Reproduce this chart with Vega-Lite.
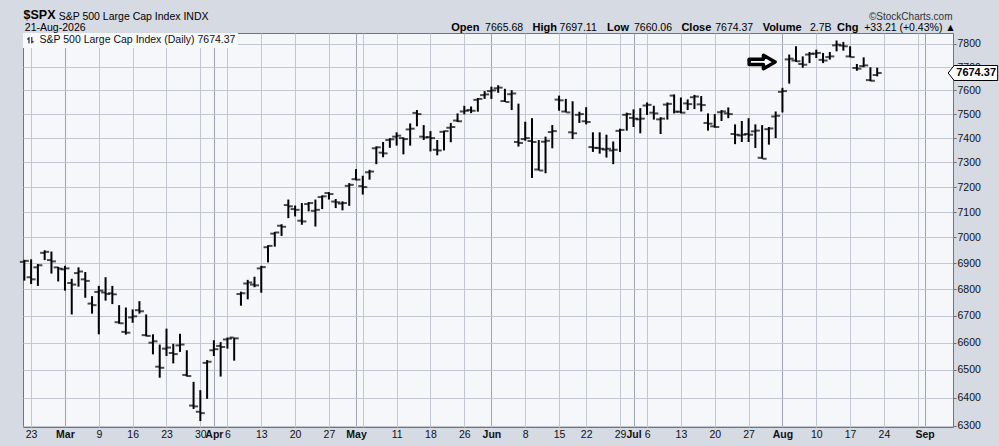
{
  "$schema": "https://vega.github.io/schema/vega-lite/v6.json",
  "width": 930,
  "height": 394,
  "autosize": "none",
  "padding": {"left": 23, "top": 33, "right": 46, "bottom": 19},
  "background": "#d5dae3",
  "config": {
    "view": {"fill": "#f5f7fb", "stroke": "#6f747e", "strokeWidth": 1},
    "font": "Liberation Sans",
    "axis": {"labelFont": "Liberation Sans", "titleFont": "Liberation Sans"},
    "legend": {"labelFont": "Liberation Sans"}
  },
  "datasets": {
    "ohlc": [
      {"d":"2026-02-20","o":6905,"h":6913,"l":6833,"c":6909},
      {"d":"2026-02-23","o":6846,"h":6915,"l":6820,"c":6838},
      {"d":"2026-02-24","o":6884,"h":6897,"l":6813,"c":6892},
      {"d":"2026-02-25","o":6940,"h":6950,"l":6912,"c":6944},
      {"d":"2026-02-26","o":6912,"h":6945,"l":6860,"c":6907},
      {"d":"2026-02-27","o":6884,"h":6886,"l":6830,"c":6879},
      {"d":"2026-03-02","o":6876,"h":6890,"l":6795,"c":6880},
      {"d":"2026-03-03","o":6824,"h":6840,"l":6705,"c":6818},
      {"d":"2026-03-04","o":6862,"h":6884,"l":6810,"c":6868},
      {"d":"2026-03-05","o":6838,"h":6866,"l":6768,"c":6832},
      {"d":"2026-03-06","o":6746,"h":6774,"l":6708,"c":6740},
      {"d":"2026-03-09","o":6790,"h":6813,"l":6631,"c":6795},
      {"d":"2026-03-10","o":6788,"h":6846,"l":6757,"c":6782},
      {"d":"2026-03-11","o":6785,"h":6813,"l":6744,"c":6781},
      {"d":"2026-03-12","o":6676,"h":6740,"l":6670,"c":6672},
      {"d":"2026-03-13","o":6640,"h":6731,"l":6630,"c":6637},
      {"d":"2026-03-16","o":6694,"h":6724,"l":6674,"c":6698},
      {"d":"2026-03-17","o":6721,"h":6755,"l":6708,"c":6717},
      {"d":"2026-03-18","o":6628,"h":6705,"l":6623,"c":6625},
      {"d":"2026-03-19","o":6600,"h":6631,"l":6557,"c":6605},
      {"d":"2026-03-20","o":6512,"h":6593,"l":6472,"c":6508},
      {"d":"2026-03-23","o":6578,"h":6652,"l":6551,"c":6582},
      {"d":"2026-03-24","o":6562,"h":6596,"l":6524,"c":6558},
      {"d":"2026-03-25","o":6590,"h":6633,"l":6566,"c":6593},
      {"d":"2026-03-26","o":6482,"h":6572,"l":6476,"c":6478},
      {"d":"2026-03-27","o":6372,"h":6457,"l":6360,"c":6369},
      {"d":"2026-03-30","o":6350,"h":6427,"l":6317,"c":6345},
      {"d":"2026-03-31","o":6526,"h":6536,"l":6396,"c":6530},
      {"d":"2026-04-01","o":6572,"h":6609,"l":6551,"c":6576},
      {"d":"2026-04-02","o":6588,"h":6602,"l":6476,"c":6584},
      {"d":"2026-04-06","o":6612,"h":6619,"l":6578,"c":6615},
      {"d":"2026-04-07","o":6619,"h":6619,"l":6534,"c":6616},
      {"d":"2026-04-08","o":6782,"h":6791,"l":6738,"c":6785},
      {"d":"2026-04-09","o":6822,"h":6836,"l":6762,"c":6826},
      {"d":"2026-04-10","o":6818,"h":6848,"l":6808,"c":6815},
      {"d":"2026-04-13","o":6880,"h":6890,"l":6787,"c":6885},
      {"d":"2026-04-14","o":6962,"h":6970,"l":6903,"c":6967},
      {"d":"2026-04-15","o":7015,"h":7022,"l":6964,"c":7019},
      {"d":"2026-04-16","o":7046,"h":7052,"l":7006,"c":7042},
      {"d":"2026-04-17","o":7128,"h":7150,"l":7076,"c":7123},
      {"d":"2026-04-20","o":7112,"h":7126,"l":7083,"c":7109},
      {"d":"2026-04-21","o":7066,"h":7136,"l":7050,"c":7063},
      {"d":"2026-04-22","o":7132,"h":7140,"l":7103,"c":7136},
      {"d":"2026-04-23","o":7105,"h":7150,"l":7043,"c":7109},
      {"d":"2026-04-24","o":7160,"h":7167,"l":7112,"c":7163},
      {"d":"2026-04-27","o":7176,"h":7180,"l":7150,"c":7172},
      {"d":"2026-04-28","o":7142,"h":7152,"l":7116,"c":7139},
      {"d":"2026-04-29","o":7134,"h":7143,"l":7107,"c":7136},
      {"d":"2026-04-30","o":7205,"h":7216,"l":7125,"c":7209},
      {"d":"2026-05-01","o":7232,"h":7273,"l":7227,"c":7230},
      {"d":"2026-05-04","o":7204,"h":7246,"l":7170,"c":7200},
      {"d":"2026-05-05","o":7260,"h":7270,"l":7230,"c":7263},
      {"d":"2026-05-06","o":7358,"h":7366,"l":7293,"c":7362},
      {"d":"2026-05-07","o":7340,"h":7384,"l":7321,"c":7337},
      {"d":"2026-05-08","o":7392,"h":7400,"l":7360,"c":7395},
      {"d":"2026-05-11","o":7406,"h":7424,"l":7369,"c":7410},
      {"d":"2026-05-12","o":7400,"h":7403,"l":7333,"c":7396},
      {"d":"2026-05-13","o":7436,"h":7461,"l":7369,"c":7439},
      {"d":"2026-05-14","o":7505,"h":7517,"l":7449,"c":7500},
      {"d":"2026-05-15","o":7406,"h":7454,"l":7392,"c":7403},
      {"d":"2026-05-18","o":7404,"h":7429,"l":7345,"c":7400},
      {"d":"2026-05-19","o":7352,"h":7392,"l":7329,"c":7349},
      {"d":"2026-05-20","o":7426,"h":7431,"l":7349,"c":7429},
      {"d":"2026-05-21","o":7443,"h":7463,"l":7383,"c":7446},
      {"d":"2026-05-22","o":7473,"h":7503,"l":7467,"c":7470},
      {"d":"2026-05-26","o":7511,"h":7535,"l":7499,"c":7514},
      {"d":"2026-05-27","o":7517,"h":7532,"l":7504,"c":7514},
      {"d":"2026-05-28","o":7560,"h":7568,"l":7510,"c":7564},
      {"d":"2026-05-29","o":7580,"h":7597,"l":7564,"c":7583},
      {"d":"2026-06-01","o":7597,"h":7616,"l":7564,"c":7600},
      {"d":"2026-06-02","o":7609,"h":7622,"l":7590,"c":7612},
      {"d":"2026-06-03","o":7555,"h":7607,"l":7551,"c":7551},
      {"d":"2026-06-04","o":7584,"h":7601,"l":7517,"c":7587},
      {"d":"2026-06-05","o":7384,"h":7544,"l":7365,"c":7380},
      {"d":"2026-06-08","o":7396,"h":7468,"l":7389,"c":7400},
      {"d":"2026-06-09","o":7388,"h":7483,"l":7237,"c":7384},
      {"d":"2026-06-10","o":7271,"h":7392,"l":7267,"c":7267},
      {"d":"2026-06-11","o":7385,"h":7406,"l":7256,"c":7389},
      {"d":"2026-06-12","o":7425,"h":7454,"l":7358,"c":7429},
      {"d":"2026-06-15","o":7561,"h":7578,"l":7514,"c":7558},
      {"d":"2026-06-16","o":7511,"h":7564,"l":7507,"c":7507},
      {"d":"2026-06-17","o":7424,"h":7554,"l":7396,"c":7420},
      {"d":"2026-06-18","o":7497,"h":7510,"l":7463,"c":7500},
      {"d":"2026-06-22","o":7470,"h":7529,"l":7457,"c":7467},
      {"d":"2026-06-23","o":7363,"h":7424,"l":7343,"c":7360},
      {"d":"2026-06-24","o":7359,"h":7424,"l":7336,"c":7356},
      {"d":"2026-06-25","o":7353,"h":7414,"l":7320,"c":7356},
      {"d":"2026-06-26","o":7349,"h":7386,"l":7293,"c":7352},
      {"d":"2026-06-29","o":7430,"h":7439,"l":7343,"c":7434},
      {"d":"2026-06-30","o":7497,"h":7506,"l":7431,"c":7500},
      {"d":"2026-07-01","o":7484,"h":7520,"l":7446,"c":7481},
      {"d":"2026-07-02","o":7478,"h":7525,"l":7420,"c":7481},
      {"d":"2026-07-06","o":7536,"h":7549,"l":7496,"c":7539},
      {"d":"2026-07-07","o":7506,"h":7535,"l":7477,"c":7503},
      {"d":"2026-07-08","o":7478,"h":7487,"l":7417,"c":7481},
      {"d":"2026-07-09","o":7540,"h":7549,"l":7477,"c":7543},
      {"d":"2026-07-10","o":7578,"h":7583,"l":7503,"c":7510},
      {"d":"2026-07-13","o":7510,"h":7570,"l":7503,"c":7506},
      {"d":"2026-07-14","o":7545,"h":7562,"l":7517,"c":7542},
      {"d":"2026-07-15","o":7571,"h":7581,"l":7521,"c":7574},
      {"d":"2026-07-16","o":7541,"h":7576,"l":7511,"c":7538},
      {"d":"2026-07-17","o":7463,"h":7503,"l":7431,"c":7460},
      {"d":"2026-07-20","o":7449,"h":7500,"l":7443,"c":7446},
      {"d":"2026-07-21","o":7508,"h":7517,"l":7471,"c":7511},
      {"d":"2026-07-22","o":7503,"h":7528,"l":7483,"c":7500},
      {"d":"2026-07-23","o":7417,"h":7457,"l":7375,"c":7414},
      {"d":"2026-07-24","o":7411,"h":7471,"l":7384,"c":7414},
      {"d":"2026-07-27","o":7417,"h":7483,"l":7384,"c":7414},
      {"d":"2026-07-28","o":7428,"h":7457,"l":7359,"c":7431},
      {"d":"2026-07-29","o":7319,"h":7454,"l":7315,"c":7315},
      {"d":"2026-07-30","o":7437,"h":7446,"l":7373,"c":7440},
      {"d":"2026-07-31","o":7490,"h":7511,"l":7400,"c":7493},
      {"d":"2026-08-03","o":7594,"h":7611,"l":7507,"c":7597},
      {"d":"2026-08-04","o":7733,"h":7754,"l":7629,"c":7736},
      {"d":"2026-08-05","o":7728,"h":7790,"l":7722,"c":7725},
      {"d":"2026-08-06","o":7713,"h":7746,"l":7697,"c":7710},
      {"d":"2026-08-07","o":7754,"h":7765,"l":7717,"c":7757},
      {"d":"2026-08-10","o":7758,"h":7775,"l":7739,"c":7761},
      {"d":"2026-08-11","o":7731,"h":7761,"l":7717,"c":7728},
      {"d":"2026-08-12","o":7743,"h":7765,"l":7732,"c":7746},
      {"d":"2026-08-13","o":7794,"h":7815,"l":7768,"c":7797},
      {"d":"2026-08-14","o":7793,"h":7809,"l":7771,"c":7790},
      {"d":"2026-08-17","o":7746,"h":7790,"l":7742,"c":7743},
      {"d":"2026-08-18","o":7696,"h":7713,"l":7684,"c":7693},
      {"d":"2026-08-19","o":7704,"h":7742,"l":7699,"c":7707},
      {"d":"2026-08-20","o":7644,"h":7699,"l":7639,"c":7641.16},
      {"d":"2026-08-21","o":7665.68,"h":7697.11,"l":7660.06,"c":7674.37}
    ],
    "arrow": [{"d": "2026-07-29", "v": 7722}],
    "last": [{"d": "2026-09-08", "v": 7674.37, "label": "7674.37"}]
  },
  "resolve": {"axis": {"x": "independent", "y": "independent"}},
  "layer": [
    {
      "data": {"name": "ohlc"},
      "mark": {"type": "rule", "strokeWidth": 2},
      "encoding": {
        "x": {
          "field": "d", "type": "ordinal",
          "scale": {"type": "point", "padding": 0.2, "domain": [
            "2026-02-20","2026-02-23","2026-02-24","2026-02-25","2026-02-26","2026-02-27",
            "2026-03-02","2026-03-03","2026-03-04","2026-03-05","2026-03-06",
            "2026-03-09","2026-03-10","2026-03-11","2026-03-12","2026-03-13",
            "2026-03-16","2026-03-17","2026-03-18","2026-03-19","2026-03-20",
            "2026-03-23","2026-03-24","2026-03-25","2026-03-26","2026-03-27",
            "2026-03-30","2026-03-31","2026-04-01","2026-04-02",
            "2026-04-06","2026-04-07","2026-04-08","2026-04-09","2026-04-10",
            "2026-04-13","2026-04-14","2026-04-15","2026-04-16","2026-04-17",
            "2026-04-20","2026-04-21","2026-04-22","2026-04-23","2026-04-24",
            "2026-04-27","2026-04-28","2026-04-29","2026-04-30","2026-05-01",
            "2026-05-04","2026-05-05","2026-05-06","2026-05-07","2026-05-08",
            "2026-05-11","2026-05-12","2026-05-13","2026-05-14","2026-05-15",
            "2026-05-18","2026-05-19","2026-05-20","2026-05-21","2026-05-22",
            "2026-05-26","2026-05-27","2026-05-28","2026-05-29",
            "2026-06-01","2026-06-02","2026-06-03","2026-06-04","2026-06-05",
            "2026-06-08","2026-06-09","2026-06-10","2026-06-11","2026-06-12",
            "2026-06-15","2026-06-16","2026-06-17","2026-06-18",
            "2026-06-22","2026-06-23","2026-06-24","2026-06-25","2026-06-26",
            "2026-06-29","2026-06-30","2026-07-01","2026-07-02",
            "2026-07-06","2026-07-07","2026-07-08","2026-07-09","2026-07-10",
            "2026-07-13","2026-07-14","2026-07-15","2026-07-16","2026-07-17",
            "2026-07-20","2026-07-21","2026-07-22","2026-07-23","2026-07-24",
            "2026-07-27","2026-07-28","2026-07-29","2026-07-30","2026-07-31",
            "2026-08-03","2026-08-04","2026-08-05","2026-08-06","2026-08-07",
            "2026-08-10","2026-08-11","2026-08-12","2026-08-13","2026-08-14",
            "2026-08-17","2026-08-18","2026-08-19","2026-08-20","2026-08-21",
            "2026-08-24","2026-08-25","2026-08-26","2026-08-27","2026-08-28",
            "2026-08-31","2026-09-01","2026-09-02","2026-09-03","2026-09-04",
            "2026-09-08"
          ]},
          "axis": {
            "orient": "bottom",
            "values": ["2026-02-23","2026-03-02","2026-03-09","2026-03-16","2026-03-23","2026-03-30","2026-04-01","2026-04-06","2026-04-13","2026-04-20","2026-04-27","2026-05-01","2026-05-04","2026-05-11","2026-05-18","2026-05-26","2026-06-01","2026-06-08","2026-06-15","2026-06-22","2026-06-29","2026-07-01","2026-07-06","2026-07-13","2026-07-20","2026-07-27","2026-08-03","2026-08-10","2026-08-17","2026-08-24","2026-08-31","2026-09-01"],
            "labelExpr": "indexof(['2026-05-04','2026-08-31'], datum.value) >= 0 ? '' : (indexof(['2026-03-02','2026-04-01','2026-05-01','2026-06-01','2026-07-01','2026-08-03','2026-09-01'], datum.value) >= 0 ? utcFormat(toDate(datum.value), '%b') : '' + toNumber(substring(datum.value, 8, 10)))",
            "labelFontWeight": {"condition": {"test": "indexof(['2026-03-02','2026-04-01','2026-05-01','2026-06-01','2026-07-01','2026-08-03','2026-09-01'], datum.value) >= 0", "value": "bold"}, "value": "normal"},
            "gridColor": {"condition": {"test": "indexof(['2026-03-02','2026-04-01','2026-05-01','2026-06-01','2026-07-01','2026-08-03','2026-09-01'], datum.value) >= 0", "value": "#9ea3af"}, "value": "#c3c7d1"},
            "gridOpacity": 1,
            "gridWidth": 1,
            "grid": true,
            "ticks": false,
            "domain": false,
            "labelAngle": 0,
            "labelPadding": 2,
            "labelFontSize": 10.5,
            "labelColor": "#111111",
            "labelOverlap": false,
            "title": "$SPX",
            "titleX": 0,
            "titleY": -409,
            "titleAlign": "left",
            "titleBaseline": "alphabetic",
            "titleFontSize": 12.5,
            "titleFontWeight": "bold",
            "titleColor": "#000000"
          }
        },
        "y": {
          "field": "l", "type": "quantitative",
          "scale": {"type": "log", "domain": [6296, 7848], "nice": false, "zero": false},
          "axis": {
            "orient": "right",
            "values": [6300,6400,6500,6600,6700,6800,6900,7000,7100,7200,7300,7400,7500,7600,7700,7800],
            "format": "d",
            "grid": true,
            "gridColor": "#c3c7d1",
            "gridOpacity": 1,
            "gridWidth": 1,
            "domain": false,
            "tickSize": 3,
            "tickColor": "#666a72",
            "labelPadding": 1,
            "labelFontSize": 10.5,
            "labelColor": "#111111",
            "title": null
          }
        },
        "y2": {"field": "h"},
        "color": {
          "datum": "S&P 500 Large Cap Index (Daily) 7674.37",
          "type": "nominal",
          "scale": {"range": ["#000000"]},
          "legend": {
            "orient": "top-left",
            "offset": 0,
            "padding": 2,
            "fillColor": "#f8f9fc",
            "title": null,
            "labelFontSize": 10.5,
            "labelColor": "#111111",
            "labelLimit": 400,
            "symbolType": "M -0.4 -1 L -0.4 1 M -1 -0.4 L -0.4 -0.4 M 0.5 -1 L 0.5 1 M 0.5 0.5 L 1.1 0.5",
            "symbolSize": 40,
            "symbolStrokeWidth": 1,
            "symbolStrokeColor": "#000000",
            "symbolFillColor": "transparent",
            "labelOffset": 4
          }
        }
      }
    },
    {
      "data": {"name": "ohlc"},
      "mark": {"type": "tick", "orient": "horizontal", "size": 4, "thickness": 2, "xOffset": -2.5, "color": "#000000"},
      "encoding": {
        "x": {
          "field": "d", "type": "ordinal",
          "axis": {
            "orient": "top",
            "values": ["2026-02-20","2026-02-27","2026-05-21","2026-05-29","2026-06-09","2026-06-15","2026-06-25","2026-07-01","2026-07-13","2026-07-20","2026-07-29","2026-08-07","2026-08-13","2026-08-19"],
            "labelExpr": "['21-Aug-2026','S&P 500 Large Cap Index  INDX','Open','7665.68','High','7697.11','Low','7660.06','Close','7674.37','Volume','2.7B','Chg','+33.21 (+0.43%) ▲'][indexof(['2026-02-20','2026-02-27','2026-05-21','2026-05-29','2026-06-09','2026-06-15','2026-06-25','2026-07-01','2026-07-13','2026-07-20','2026-07-29','2026-08-07','2026-08-13','2026-08-19'], datum.value)]",
            "labelFontWeight": {"condition": {"test": "indexof(['2026-05-21','2026-06-09','2026-06-25','2026-07-13','2026-07-29','2026-08-13'], datum.value) >= 0", "value": "bold"}, "value": "normal"},
            "labelFontSize": {"condition": {"test": "indexof(['2026-05-21','2026-06-09','2026-06-25','2026-07-13','2026-07-29','2026-08-13'], datum.value) >= 0", "value": 11}, "value": 10.5},
            "labelPadding": {"condition": {"test": "datum.value === '2026-02-27'", "value": 14}, "value": 3},
            "labelColor": "#000000",
            "labelAlign": "left",
            "labelBaseline": "alphabetic",
            "labelAngle": 0,
            "labelOverlap": false,
            "labelLimit": 400,
            "grid": false,
            "ticks": false,
            "domain": false,
            "title": "©StockCharts.com",
            "titleX": 929,
            "titleY": -14,
            "titleAlign": "right",
            "titleBaseline": "alphabetic",
            "titleFontSize": 10,
            "titleFontWeight": "normal",
            "titleColor": "#333333"
          }
        },
        "y": {"field": "o", "type": "quantitative", "axis": null}
      }
    },
    {
      "data": {"name": "ohlc"},
      "mark": {"type": "tick", "orient": "horizontal", "size": 4, "thickness": 2, "xOffset": 2.5, "color": "#000000"},
      "encoding": {
        "x": {"field": "d", "type": "ordinal", "axis": null},
        "y": {"field": "c", "type": "quantitative", "axis": null}
      }
    },
    {
      "data": {"name": "arrow"},
      "mark": {"type": "point", "shape": "M -1 -0.2 L 0.1 -0.2 L 0.1 -0.52 L 1 0 L 0.1 0.52 L 0.1 0.2 L -1 0.2 Z", "size": 676, "filled": true, "fill": "#ffffff", "stroke": "#000000", "strokeWidth": 3.5, "strokeJoin": "round", "opacity": 1},
      "encoding": {
        "x": {"field": "d", "type": "ordinal", "axis": null},
        "y": {"field": "v", "type": "quantitative", "axis": null}
      }
    },
    {
      "data": {"name": "last"},
      "mark": {"type": "point", "shape": "M -0.35 0 L 0.25 -0.75 L 4.6 -0.75 L 4.6 0.75 L 0.25 0.75 Z", "size": 400, "filled": true, "fill": "#ffffff", "stroke": "#000000", "strokeWidth": 1, "opacity": 1},
      "encoding": {
        "x": {"field": "d", "type": "ordinal", "axis": null},
        "y": {"field": "v", "type": "quantitative", "axis": null}
      }
    },
    {
      "data": {"name": "last"},
      "mark": {"type": "text", "dx": 24.5, "align": "center", "baseline": "middle", "fontSize": 11, "fontWeight": "bold", "color": "#000000", "font": "Liberation Sans"},
      "encoding": {
        "x": {"field": "d", "type": "ordinal", "axis": null},
        "y": {"field": "v", "type": "quantitative", "axis": null},
        "text": {"field": "label"}
      }
    }
  ]
}
